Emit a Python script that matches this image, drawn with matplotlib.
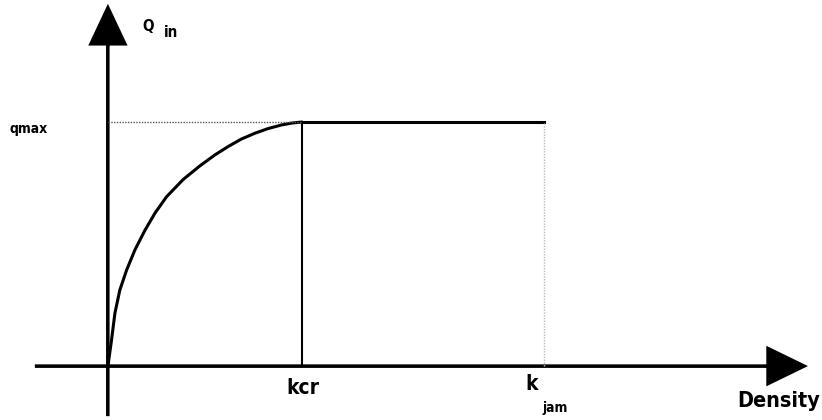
import matplotlib.pyplot as plt

# fundamental diagram: inflow vs density
density = [0, 1.5, 2.9, 4.9, 7.7, 11.1, 15.3, 19.5, 24.2, 31.1, 37.9, 44.1,
           49.5, 55.0, 60.6, 66.0, 71.6, 76.0, 80]
q_in = [0, 10.7, 21.7, 31.1, 39.3, 47.5, 55.7, 62.8, 69.4, 76.5, 82.0, 86.5,
        89.9, 93.0, 95.4, 97.3, 98.8, 99.6, 100]
k_cr = 80
k_jam = 180
q_max = 100

lab = dict(family='DejaVu Sans', stretch='condensed', weight='bold')

fig = plt.figure(figsize=(8.22, 4.2), dpi=100)
ax = fig.add_axes([0, 0, 1, 1])
ax.set_xlim(-44.5, 294.5)
ax.set_ylim(-22.1, 150)
ax.axis('off')

# axes with arrow heads
ax.arrow(0, -20.5, 0, 167.6, width=0.0, head_width=14.4, head_length=15.2,
         length_includes_head=True, fc='black', ec='black', lw=2.0)
ax.arrow(-30.1, 0, 317.5, 0, width=0.0, head_width=14.8, head_length=15.3,
         length_includes_head=True, fc='black', ec='black', lw=2.0)

# curve up to critical density, then flat at qmax
ax.plot(density, q_in, c='black', lw=2.2, solid_capstyle='round', solid_joinstyle='round')
ax.plot([k_cr, k_jam], [q_max, q_max], c='black', lw=2.2)
ax.plot([k_cr, k_cr], [0, q_max], c='black', lw=1.5)
ax.plot([0, k_cr], [q_max, q_max], c='#555555', lw=1.0, ls=(0, (1, 1)))
ax.plot([k_jam, k_jam], [0, q_max], c='#bbbbbb', lw=1.0, ls=(0, (1, 1)))

# labels
ax.text(16.5, 139.3, 'Q', fontsize=11, ha='center', va='center', **lab)
ax.text(25.9, 136.5, 'in', fontsize=11, ha='center', va='center', **lab)
ax.text(-40.4, q_max - 2.9, 'qmax', fontsize=10, ha='left', va='center', **lab)
ax.text(k_cr + 0.6, -8.8, 'kcr', fontsize=15, ha='center', va='center', **lab)
ax.text(k_jam - 5.4, -7.4, 'k', fontsize=15, ha='center', va='center', **lab)
ax.text(k_jam - 1, -17.2, 'jam', fontsize=10, ha='left', va='center', **lab)
ax.text(293.6, -14.3, 'Density', fontsize=15.5, ha='right', va='center', **lab)

fig.savefig('out.png', dpi=100, facecolor='white')
